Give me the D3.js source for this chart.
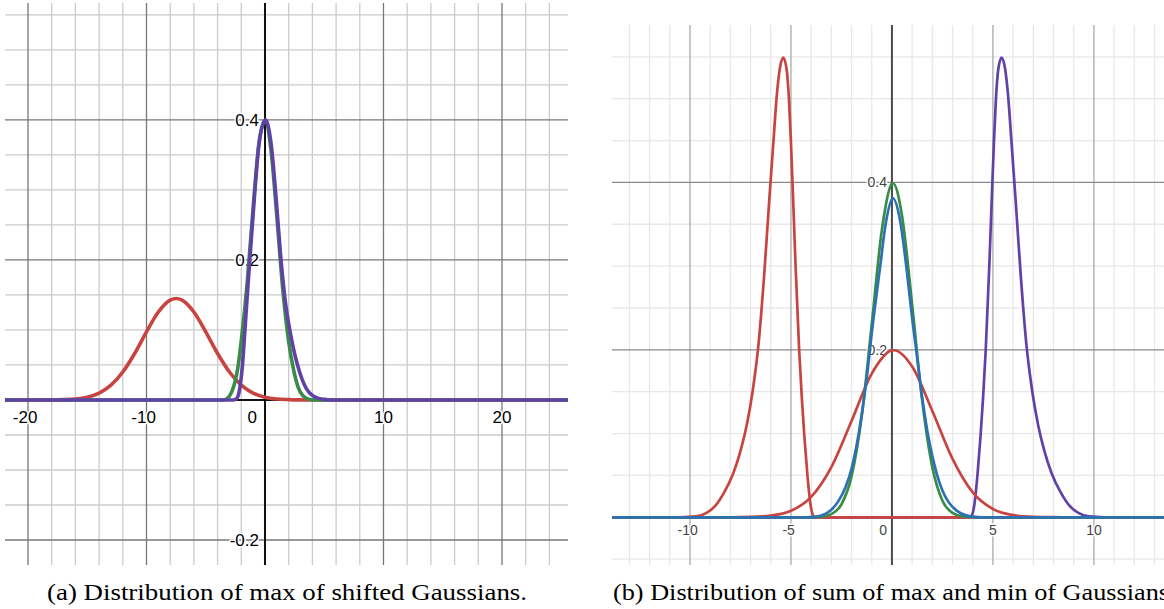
<!DOCTYPE html>
<html>
<head>
<meta charset="utf-8">
<script src="https://cdn.jsdelivr.net/npm/d3@7"></script>
<style>
body { margin: 0; background: #fff; }
svg { display: block; }
</style>
</head>
<body>
<svg width="1164" height="609"></svg>
<script>
// ---- panel (a): max of shifted Gaussians ----
var aXTicks = [-20, -10, 0, 10, 20];
var aYTicks = [0.4, 0.2, -0.2];

var aRed = [[-22, 0], [-20, 0.00001], [-18, 0.00013], [-17, 0.0005], [-16, 0.0014], [-15, 0.004],
    [-14, 0.0098], [-13, 0.0211], [-12, 0.0399], [-11, 0.0664], [-10, 0.0973], [-9, 0.1256],
    [-8, 0.1427], [-7.5, 0.145], [-7, 0.1427], [-6, 0.1256], [-5, 0.0973], [-4, 0.0664],
    [-3, 0.0399], [-2, 0.0211], [-1, 0.0098], [0, 0.004], [1, 0.0014], [2, 0.0005],
    [3, 0.00013], [4, 0.00001], [6, 0], [26, 0]];

var aGreen = [[-22, 0], [-3.5, 0], [-3.2, 0.002], [-2.8, 0.012], [-2.5, 0.028], [-2.3, 0.045],
    [-2, 0.085], [-1.5, 0.168], [-1, 0.275], [-0.5, 0.368], [0, 0.399], [0.5, 0.358],
    [1, 0.262], [1.5, 0.158], [2, 0.083], [2.45, 0.04], [2.8, 0.018], [3.2, 0.006],
    [3.8, 0.0008], [4.5, 0], [26, 0]];

var aPurple = [[-22, 0], [-2.7, 0], [-2.4, 0.002], [-2.2, 0.01], [-2.05, 0.026], [-1.9, 0.05],
    [-1.7, 0.098], [-1.5, 0.148], [-1.3, 0.196], [-1, 0.265], [-0.5, 0.366], [0.05, 0.4],
    [0.5, 0.368], [1, 0.275], [1.3, 0.21], [1.7, 0.143], [2.17, 0.093], [2.5, 0.066],
    [2.9, 0.041], [3.5, 0.016], [4, 0.0065], [4.4, 0.003], [5, 0.0009], [5.7, 0], [26, 0]];

// ---- panel (b): sum of max and min of Gaussians ----
var bXTicks = [-10, -5, 0, 5, 10];
var bYTicks = [0.4, 0.2];

var bMinRed = [[-14, 0], [-10.5, 0], [-9.7, 0.001], [-9.2, 0.005], [-8.75, 0.0135], [-8.3, 0.03],
    [-7.85, 0.053], [-7.5, 0.079], [-7.19, 0.11], [-6.9, 0.15], [-6.6, 0.208], [-6.33, 0.288],
    [-6.07, 0.38], [-5.87, 0.448], [-5.7, 0.504], [-5.55, 0.536], [-5.38, 0.549], [-5.22, 0.536],
    [-5.1, 0.5], [-5, 0.448], [-4.9, 0.385], [-4.77, 0.3], [-4.59, 0.198], [-4.46, 0.142],
    [-4.34, 0.098], [-4.19, 0.052], [-4.03, 0.015], [-3.9, 0.002], [-3.8, 0], [14, 0]];

var bMaxPurple = [[-14, 0], [3.85, 0], [3.95, 0.002], [4.08, 0.015], [4.24, 0.052], [4.39, 0.098],
    [4.51, 0.142], [4.64, 0.198], [4.82, 0.3], [4.95, 0.385], [5.05, 0.448], [5.15, 0.5],
    [5.27, 0.536], [5.43, 0.549], [5.6, 0.536], [5.75, 0.504], [5.92, 0.448], [6.12, 0.38],
    [6.38, 0.288], [6.65, 0.208], [6.95, 0.15], [7.24, 0.11], [7.55, 0.079], [7.9, 0.053],
    [8.35, 0.03], [8.8, 0.0135], [9.25, 0.005], [9.75, 0.001], [10.5, 0], [14, 0]];

var bSumRed = [[-14, 0], [-9, 0], [-8, 0.00005], [-7, 0.0004], [-6, 0.0019], [-5, 0.0077],
    [-4, 0.0244], [-3, 0.06], [-2, 0.115], [-1, 0.1715], [0, 0.1993], [0.1, 0.1995],
    [1, 0.18], [2, 0.127], [3, 0.0698], [4, 0.0298], [5, 0.0099], [6, 0.0026],
    [7, 0.0005], [8, 0.00008], [9, 0], [14, 0]];

var bGreen = [[-14, 0], [-4.5, 0], [-4, 0.0001], [-3.5, 0.0007], [-3, 0.0038], [-2.5, 0.0155],
    [-2, 0.0489], [-1.5, 0.12], [-1, 0.23], [-0.5, 0.343], [0, 0.3985], [0.05, 0.399],
    [0.5, 0.36], [1, 0.254], [1.5, 0.139], [2, 0.0597], [2.5, 0.0198], [3, 0.0052],
    [3.5, 0.001], [4, 0.0002], [4.5, 0], [14, 0]];

var bBlue = [[-14, 0], [-4.2, 0], [-3.8, 0.0005], [-3.3, 0.004], [-3, 0.009], [-2.66, 0.019],
    [-2.3, 0.036], [-2, 0.058], [-1.5, 0.122], [-1.24, 0.168], [-1, 0.22], [-0.58, 0.3],
    [-0.3, 0.352], [0.05, 0.381], [0.4, 0.355], [0.71, 0.3], [1, 0.238], [1.24, 0.192],
    [1.48, 0.146], [1.76, 0.102], [2, 0.073], [2.23, 0.051], [2.5, 0.032], [2.78, 0.019],
    [3.2, 0.008], [3.7, 0.002], [4.2, 0.0003], [4.6, 0], [14, 0]];

var captions = ['(a) Distribution of max of shifted Gaussians.',
    '(b) Distribution of sum of max and min of Gaussians'];

var svg = d3.select('svg');

function drawPanel(p) {
    var x = d3.scaleLinear().domain(p.xDomain).range(p.xRange);
    var y = d3.scaleLinear().domain(p.yDomain).range(p.yRange);
    var g = svg.append('g');

    g.append('clipPath').attr('id', p.id + '-clip')
        .append('rect')
        .attr('x', p.xRange[0]).attr('y', p.yRange[1])
        .attr('width', p.xRange[1] - p.xRange[0])
        .attr('height', p.yRange[0] - p.yRange[1]);

    var grid = g.append('g');
    var xs = d3.range(p.xMinorIdx[0], p.xMinorIdx[1] + 1);
    var ys = d3.range(p.yMinorIdx[0], p.yMinorIdx[1] + 1);

    // minor first, then major on top
    [false, true].forEach(function(major) {
        grid.selectAll(null)
            .data(xs.filter(function(k) { return k !== 0 && ((k % p.xMajorEvery === 0) === major); }))
            .enter().append('line')
            .attr('x1', function(k) { return x(k * p.xStep); })
            .attr('x2', function(k) { return x(k * p.xStep); })
            .attr('y1', p.yRange[1]).attr('y2', p.yRange[0])
            .attr('stroke', major ? p.majorColor : p.minorColor)
            .attr('stroke-width', p.gridWidth);
        grid.selectAll(null)
            .data(ys.filter(function(j) { return j !== 0 && ((j % p.yMajorEvery === 0) === major); }))
            .enter().append('line')
            .attr('y1', function(j) { return y(j * p.yStep); })
            .attr('y2', function(j) { return y(j * p.yStep); })
            .attr('x1', p.xRange[0]).attr('x2', p.xRange[1])
            .attr('stroke', major ? p.hMajorColor : p.minorColor)
            .attr('stroke-width', p.gridWidth);
    });

    // axes
    g.append('line')
        .attr('x1', x(0)).attr('x2', x(0))
        .attr('y1', p.yRange[1]).attr('y2', p.yRange[0])
        .attr('stroke', p.axisColor).attr('stroke-width', 2);
    g.append('line')
        .attr('y1', y(0)).attr('y2', y(0))
        .attr('x1', p.xRange[0]).attr('x2', p.xRange[1])
        .attr('stroke', p.axisColor).attr('stroke-width', 2);

    // tick labels (white halo like desmos), minus sign hangs left of the number
    var minusW = p.fontSize * 0.333;
    g.selectAll('.xlab')
        .data(p.xTicks)
        .enter().append('text')
        .attr('class', 'xlab')
        .attr('x', function(d) {
            if (d === 0) return x(0) - p.zeroGap;
            return x(d) - (d < 0 ? minusW / 2 : 0);
        })
        .attr('y', p.xLabelY)
        .attr('text-anchor', function(d) { return d === 0 ? 'end' : 'middle'; })
        .text(function(d) { return d; });
    g.selectAll('.ylab')
        .data(p.yTicks)
        .enter().append('text')
        .attr('class', 'ylab')
        .attr('x', x(0) - p.yLabelGap)
        .attr('y', function(d) { return y(d) + p.fontSize * 0.36; })
        .attr('text-anchor', 'end')
        .text(function(d) { return d; });
    g.selectAll('text')
        .attr('font-family', 'Liberation Sans, Arial, sans-serif')
        .attr('font-size', p.fontSize)
        .attr('fill', p.labelColor)
        .attr('stroke', '#fff')
        .attr('stroke-width', 3)
        .attr('stroke-linejoin', 'round')
        .attr('paint-order', 'stroke');

    var line = d3.line()
        .x(function(d) { return x(d[0]); })
        .y(function(d) { return y(d[1]); })
        .curve(d3.curveMonotoneX);

    g.append('g')
        .attr('clip-path', 'url(#' + p.id + '-clip)')
        .selectAll('path')
        .data(p.series)
        .enter().append('path')
        .attr('d', function(s) { return line(s.data); })
        .attr('fill', 'none')
        .attr('stroke', function(s) { return s.color; })
        .attr('stroke-width', p.curveWidth)
        .attr('stroke-linejoin', 'round')
        .attr('stroke-linecap', 'round');
}

var red = '#c74440', green = '#388c46', purple = '#6042a6', blue = '#2d70b3';

drawPanel({
    id: 'pa',
    xDomain: [-21.94, 25.57], xRange: [5, 568],
    yDomain: [-0.2357, 0.567], yRange: [565, 3],
    xStep: 2, xMinorIdx: [-10, 12], xMajorEvery: 5,
    yStep: 0.05, yMinorIdx: [-4, 11], yMajorEvery: 4,
    minorColor: '#cbcbcb', majorColor: '#777', hMajorColor: '#777',
    gridWidth: 1.3, axisColor: '#111',
    xTicks: aXTicks, yTicks: aYTicks,
    fontSize: 17, labelColor: '#000', xLabelY: 423, zeroGap: 8, yLabelGap: 6,
    curveWidth: 3.6,
    series: [{data: aRed, color: red}, {data: aGreen, color: green}, {data: aPurple, color: purple}]
});

drawPanel({
    id: 'pb',
    xDomain: [-13.86, 13.47], xRange: [612, 1164],
    yDomain: [-0.057, 0.588], yRange: [565, 25],
    xStep: 1, xMinorIdx: [-13, 13], xMajorEvery: 5,
    yStep: 0.05, yMinorIdx: [-1, 11], yMajorEvery: 4,
    minorColor: '#e8e8e8', majorColor: '#a9a9a9', hMajorColor: '#8a8a8a',
    gridWidth: 1.3, axisColor: '#4a4a4a',
    xTicks: bXTicks, yTicks: bYTicks,
    fontSize: 14, labelColor: '#444', xLabelY: 535, zeroGap: 5, yLabelGap: 5,
    curveWidth: 2.7,
    series: [{data: bMaxPurple, color: purple}, {data: bMinRed, color: red},
        {data: bSumRed, color: red}, {data: bGreen, color: green}, {data: bBlue, color: blue}]
});

// captions
svg.selectAll('.caption')
    .data(captions)
    .enter().append('text')
    .attr('class', 'caption')
    .attr('x', function(d, i) { return i === 0 ? 47 : 613; })
    .attr('y', 600)
    .attr('textLength', function(d, i) { return i === 0 ? 480 : 556; })
    .attr('lengthAdjust', 'spacingAndGlyphs')
    .attr('font-family', 'Liberation Serif, Times New Roman, serif')
    .attr('font-size', 23)
    .attr('fill', '#000')
    .text(function(d) { return d; });
</script>
</body>
</html>
